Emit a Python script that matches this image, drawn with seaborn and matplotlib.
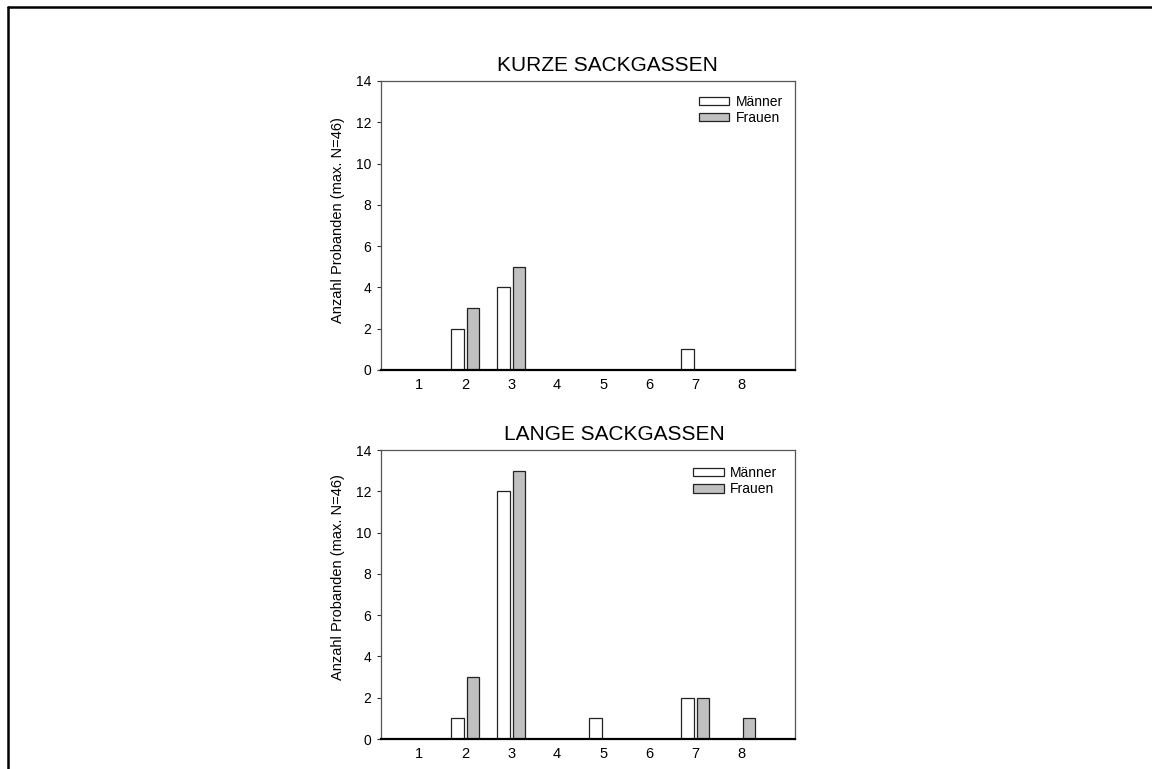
import matplotlib.pyplot as plt
import seaborn as sns
import pandas as pd
from matplotlib.lines import Line2D

# Data
kategorien = [1, 2, 3, 4, 5, 6, 7, 8]
kurz_maenner = [0, 2, 4, 0, 0, 0, 1, 0]
kurz_frauen = [0, 3, 5, 0, 0, 0, 0, 0]
lang_maenner = [0, 1, 12, 0, 1, 0, 2, 0]
lang_frauen = [0, 3, 13, 0, 0, 0, 2, 1]
titel = ["KURZE SACKGASSEN", "LANGE SACKGASSEN"]
y_label = "Anzahl Probanden (max. N=46)"

sns.set_style("white")
plt.rcParams['font.family'] = ['Liberation Sans', 'DejaVu Sans']
plt.rcParams['text.color'] = 'black'
plt.rcParams['axes.labelcolor'] = 'black'
plt.rcParams['xtick.color'] = 'black'
plt.rcParams['ytick.color'] = 'black'


def long_df(m, f):
    return pd.DataFrame({
        "kat": kategorien * 2,
        "n": m + f,
        "geschlecht": ["Männer"] * len(m) + ["Frauen"] * len(f),
    })


fig = plt.figure(figsize=(11.52, 7.69), dpi=100)
ax1 = fig.add_axes([0.3307, 0.5189, 0.3594, 0.3758])
ax2 = fig.add_axes([0.3307, 0.0390, 0.3594, 0.3758])

# (axes, data, legend anchor, title x, ylabel y)
panels = [(ax1, long_df(kurz_maenner, kurz_frauen), (0.971, 0.952), 0.546, 0.52),
          (ax2, long_df(lang_maenner, lang_frauen), (0.957, 0.945), 0.563, 0.56)]

for (ax, df, leg_pos, tx, ly), t in zip(panels, titel):
    sns.barplot(data=df, x="kat", y="n", hue="geschlecht",
                order=kategorien, hue_order=["Männer", "Frauen"],
                palette={"Männer": "white", "Frauen": "#c0c0c0"},
                width=0.68, gap=0.18, edgecolor="#222222", linewidth=0.9,
                ax=ax)
    ax.set_xlim(-0.83, 8.17)
    ax.set_ylim(0, 14)
    ax.set_yticks(range(0, 15, 2))
    ax.set_xlabel("")
    ax.set_ylabel(y_label, fontsize=10.5)
    ax.yaxis.set_label_coords(-0.087, ly)
    ax.set_title(t, fontsize=15, pad=7, x=tx, color="black")
    ax.tick_params(axis="x", length=0, labelsize=10.5, pad=6)
    ax.tick_params(axis="y", length=3, width=0.8, labelsize=10, pad=4,
                   direction="out", left=True, color="#333333")
    for s in ["top", "right", "left"]:
        ax.spines[s].set_color("#555555")
        ax.spines[s].set_linewidth(0.9)
    ax.spines["bottom"].set_color("black")
    ax.spines["bottom"].set_linewidth(1.6)
    leg = ax.legend(loc="upper right", bbox_to_anchor=leg_pos,
                    frameon=False, fontsize=10,
                    handlelength=2.2, handleheight=0.6, handletextpad=0.45,
                    labelspacing=0.15, borderaxespad=0, borderpad=0)
    for h in leg.legend_handles:
        h.set_edgecolor("#222222")
        h.set_linewidth(0.9)

# frame of the original page (left and top edges)
fig.add_artist(Line2D([8 / 1152, 8 / 1152], [0, 1 - 7 / 769],
                      color="black", linewidth=1.8))
fig.add_artist(Line2D([8 / 1152, 1], [1 - 7 / 769, 1 - 7 / 769],
                      color="black", linewidth=1.8))

fig.savefig("out.png", dpi=100)
